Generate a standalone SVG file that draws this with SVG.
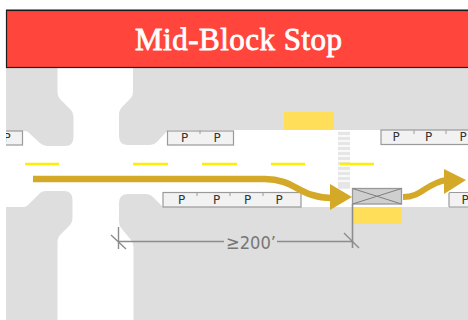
<svg xmlns="http://www.w3.org/2000/svg" width="468" height="320" viewBox="0 0 468 320">
<style>
.blk{fill:#dedede}
.pk{fill:#f2f2f2;stroke:#9a9a9a;stroke-width:1.2}
.p{font:12px "DejaVu Sans",sans-serif;fill:#333;text-anchor:middle}
.d{stroke:#ffee00;stroke-width:2.6}
.g{stroke:#8c8c8c;fill:none;stroke-width:1.4}
.cw{stroke:#e6e6e6;stroke-width:3.4}
.tk{stroke:#9a9a9a;stroke-width:1}
</style>
<rect width="468" height="320" fill="#fff"/>
<g id="blocks">
<path class="blk" d="M6 67H57.5V92Q57.5 96 60 99L71 110Q73.500 113 73.500 117V137Q73.500 146 65 146H47Q43 146 40 143L28 132Q27 131 25 131H6Z"/>
<path class="blk" d="M133 67V92Q133 96 130 99L122 107Q119 110 119 115V136Q119 145 128 145H150Q154 145 157 142L168 130H468V67Z"/>
<path class="blk" d="M6 207H24Q26 207 28 205L40 193Q42 191 46 191H64Q72.500 191 72.500 200V218Q72.500 222 70 225L60 235Q57.500 238 57.500 241V320H6Z"/>
<path class="blk" d="M133.500 320V247Q133.500 243 131 240L122 229Q119 226 119 222V203Q119 194 128 194H146Q150 194 153 197L163 207H468V320Z"/>
</g>
<g id="crosswalk">
<path class="cw" d="M338 133.500H350M338 138.500H350M338 143.500H350M338 148.500H350M338 153.500H350M338 158.500H350M338 163.500H350M338 168.500H350M338 173.500H350M338 178.500H350M338 183.500H350M338 187H350"/>
</g>
<g id="lane-dashes">
<path class="d" d="M25 164H59M133 164H168M202 164H237M271 164H305M340 164H374"/>
</g>
<g id="zones">
<rect x="284" y="112" width="50" height="18" fill="#ffde59"/>
<rect x="352" y="207" width="50" height="17" fill="#ffde59"/>
</g>
<g id="parking">
<rect class="pk" x="0" y="131" width="22.500" height="14"/>
<text class="p" x="7" y="142">P</text>
<rect class="pk" x="167.500" y="131" width="66" height="14"/>
<path class="tk" d="M200 130.500V134"/>
<text class="p" x="184.500" y="142">P</text>
<text class="p" x="217" y="142">P</text>
<rect class="pk" x="381" y="130" width="90" height="14.500"/>
<path class="tk" d="M414 130.500V134M446 130.500V134"/>
<text class="p" x="396" y="141">P</text>
<text class="p" x="428.500" y="141">P</text>
<text class="p" x="463" y="141">P</text>
<rect class="pk" x="163" y="192.500" width="138" height="14.500"/>
<path class="tk" d="M197 192.500V196M263 192.500V196M230 192.500V196"/>
<text class="p" x="181.500" y="204">P</text>
<text class="p" x="216.500" y="204">P</text>
<text class="p" x="247.500" y="204">P</text>
<text class="p" x="279" y="204">P</text>
<rect class="pk" x="449" y="192.500" width="25" height="14.500" rx="1"/>
<text class="p" x="465" y="204">P</text>
</g>
<g id="signal">
<rect x="352.500" y="188.500" width="49" height="15.500" fill="#cfcfcf" stroke="#999" stroke-width="1.300"/>
<path d="M352.500 188.500L401.500 204M352.500 204L401.500 188.500" stroke="#7f7f7f" stroke-width="1" fill="none"/>
</g>
<g id="connectors">
<path d="M33 179H265C295 179 300 198 332 198" fill="none" stroke="#d4a927" stroke-width="6.500"/>
<path d="M352 197L330 184V210Z" fill="#d4a927"/>
<path d="M403 197C422 197 425 184 446 180" fill="none" stroke="#d4a927" stroke-width="6"/>
<path d="M466 180L444 169V194Z" fill="#d4a927"/>
<path class="g" d="M118.500 227V249M111 235L126 249M118.500 241.500H224M277 241.500H352M344 233L359 248"/>
<path d="M352.500 204V248" stroke="#8c8c8c" stroke-width="1.600" fill="none"/>
</g>
<g id="dimension-label">
<text x="251" y="248.500" font-family="'DejaVu Sans',sans-serif" font-size="18.500" fill="#777" text-anchor="middle" textLength="50" lengthAdjust="spacingAndGlyphs">≥200’</text>
</g>
<rect x="0" y="0" width="6" height="320" fill="#fff"/>
<g id="header">
<rect x="6.500" y="10.500" width="470" height="57" fill="#ff453c" stroke="#1c1c1c" stroke-width="1.200"/>
<path d="M6 9.500H468" stroke="#888" stroke-width="1"/>
<text x="238.500" y="50" font-family="'Liberation Serif',serif" font-size="31" fill="#fff" stroke="#fff" stroke-width="0.8" text-anchor="middle" textLength="207" lengthAdjust="spacing">Mid-Block Stop</text>
</g>
</svg>
